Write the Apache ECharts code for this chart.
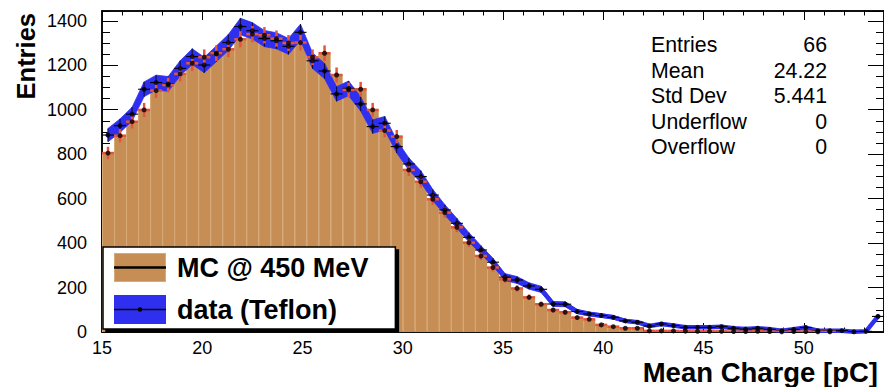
<!DOCTYPE html>
<html><head><meta charset="utf-8">
<script src="https://cdn.jsdelivr.net/npm/echarts@6/dist/echarts.min.js"></script>
<style>html,body{margin:0;padding:0;background:#fff}#c{width:884px;height:387px}</style>
</head><body><div id="c"></div>
<script>
// ---- data ----
const binLow = 15;
const binWidth = 0.6;
const mcValues = [805,883,946,999,1086,1111,1161,1209,1236,1254,1272,1317,1340,1335,1320,1300,1302,1236,1254,1156,1089,1092,999,906,879,729,676,597,537,471,402,342,290,237,196,156,125,99,89,65,57,32,24,17,17,5,5,5,4,3,3,3,2,2,3,2,1,2,2,1,1,0,0,0,0];
const dataValues = [886,928,980,1092,1122,1116,1186,1239,1201,1251,1302,1374,1355,1320,1310,1285,1348,1220,1174,1071,1096,1026,924,939,834,756,699,616,549,489,426,369,314,247,234,207,192,126,125,92,81,74,66,50,44,27,36,29,21,21,21,24,17,13,17,12,6,12,20,6,6,6,1,3,70];
const xTickLabels = [15,20,25,30,35,40,45,50];
const yTickLabels = [0,200,400,600,800,1000,1200,1400];
const statsLabels = ['Entries','Mean','Std Dev','Underflow','Overflow'];
const statsValues = ['66','24.22','5.441','0','0'];
const mcName = 'MC @ 450 MeV';
const dataName = 'data (Teflon)';

// ---- style ----
const FONT = '"Liberation Sans", Arial, Helvetica, sans-serif';
const ORANGE = '#c68e54';
const SEAM = '#d8aa78';
const RED = '#e4553d';
const BLUE = '#2f2ff0';

const center = i => +(binLow + binWidth * (i + 0.5)).toFixed(3);
const lo = i => +(binLow + binWidth * i).toFixed(3);
const hi = i => +(binLow + binWidth * (i + 1)).toFixed(3);

const mcBars = mcValues.map((v, i) => [lo(i), hi(i), v]);
const mcErr = mcValues.map((v, i) => [lo(i), hi(i), v, Math.sqrt(v), center(i)]);
const dataErr = dataValues.map((v, i) => [lo(i), hi(i), v, Math.sqrt(v), center(i)]);
const bandSegs = dataValues.slice(0, -1).map((v, i) => [center(i), v, Math.sqrt(v), center(i + 1), dataValues[i + 1], Math.sqrt(dataValues[i + 1])]);
const dataLine = dataValues.map((v, i) => [center(i), v]);
const mcDots = mcValues.map((v, i) => [center(i), v]);
const dataDots = dataValues.map((v, i) => [center(i), v]);

function svgUri(s) { return 'image://data:image/svg+xml;charset=utf-8,' + encodeURIComponent(s); }
const iconMC = svgUri('<svg xmlns="http://www.w3.org/2000/svg" width="52" height="29"><rect x="0.5" y="0.5" width="51" height="28" fill="' + ORANGE + '" stroke="' + SEAM + '" stroke-width="1"/><line x1="0" y1="14.5" x2="52" y2="14.5" stroke="#000" stroke-width="2.5"/></svg>');
const iconData = svgUri('<svg xmlns="http://www.w3.org/2000/svg" width="52" height="29"><rect width="52" height="29" fill="' + BLUE + '"/><line x1="0" y1="14.5" x2="52" y2="14.5" stroke="#000" stroke-width="1.5"/><circle cx="26" cy="14.5" r="2.3" fill="#000"/></svg>');

const chart = echarts.init(document.getElementById('c'), null, {renderer: 'svg'});

function axisX(pos, interval, len, labels) {
  return {
    type: 'value', min: 15, max: 54, interval: interval, position: pos, offset: 0,
    axisLine: {show: true, onZero: false, lineStyle: {color: '#000', width: 1.5}},
    axisTick: {show: true, inside: true, length: len, lineStyle: {color: '#000', width: 1}},
    axisLabel: labels ? {show: true, margin: 7, fontSize: 18, fontFamily: FONT, color: '#000', showMaxLabel: false,
      formatter: v => xTickLabels.indexOf(v) >= 0 ? String(v) : ''} : {show: false},
    splitLine: {show: false}
  };
}
function axisY(pos, interval, len, labels) {
  return {
    type: 'value', min: 0, max: 1444, interval: interval, position: pos, offset: 0,
    axisLine: {show: true, onZero: false, lineStyle: {color: '#000', width: 1.5}},
    axisTick: {show: true, inside: true, length: len, lineStyle: {color: '#000', width: 1}},
    axisLabel: labels ? {show: true, margin: 15, fontSize: 18, fontFamily: FONT, color: '#000', showMaxLabel: false,
      formatter: v => yTickLabels.indexOf(v) >= 0 ? String(v) : ''} : {show: false},
    splitLine: {show: false}
  };
}

const option = {
  animation: false,
  backgroundColor: '#fff',
  grid: {left: 102, top: 11, width: 784, bottom: 55, containLabel: false},
  xAxis: [axisX('bottom', 5, 9, true), axisX('bottom', 1, 4.5, false), axisX('top', 5, 9, false), axisX('top', 1, 4.5, false)],
  yAxis: [axisY('left', 200, 16, true), axisY('left', 50, 8, false), axisY('right', 200, 16, false), axisY('right', 50, 8, false)],
  legend: {
    orient: 'vertical', left: 103, top: 247, padding: [6, 27, 5, 11], itemGap: 13,
    itemWidth: 52, itemHeight: 29, selectedMode: false,
    backgroundColor: '#fff', borderColor: '#000', borderWidth: 1.5, borderRadius: 0,
    shadowColor: '#000', shadowBlur: 0, shadowOffsetX: 3, shadowOffsetY: 3,
    textStyle: {fontFamily: FONT, fontWeight: 'bold', fontSize: 27, color: '#000', padding: [0, 0, 0, 6]},
    data: [{name: mcName, icon: iconMC}, {name: dataName, icon: iconData}]
  },
  series: [
    {
      name: mcName, type: 'custom', clip: true, z: 1,
      encode: {x: [0, 1], y: 2},
      data: mcBars,
      itemStyle: {color: ORANGE},
      renderItem: (params, api) => {
        const p0 = api.coord([api.value(0), 0]);
        const p1 = api.coord([api.value(1), api.value(2)]);
        return {type: 'group', children: [
          {type: 'rect', shape: {x: p0[0], y: p1[1], width: p1[0] - p0[0], height: p0[1] - p1[1]}, style: {fill: ORANGE}},
          {type: 'line', shape: {x1: p0[0] + 0.5, y1: p0[1], x2: p0[0] + 0.5, y2: p1[1] + 1}, style: {stroke: SEAM, lineWidth: 1}}
        ]};
      }
    },
    {
      name: 'band', type: 'custom', clip: true, z: 2, silent: true,
      encode: {x: [0, 3], y: [1, 4]}, data: bandSegs,
      renderItem: (params, api) => {
        const x0 = api.value(0), v0 = api.value(1), e0 = api.value(2);
        const x1 = api.value(3), v1 = api.value(4), e1 = api.value(5);
        const pts = [api.coord([x0, v0 + e0]), api.coord([x1, v1 + e1]), api.coord([x1, v1 - e1]), api.coord([x0, v0 - e0])];
        return {type: 'polygon', shape: {points: pts}, style: {fill: BLUE, stroke: BLUE, lineWidth: 0.8}};
      }
    },
    {
      name: dataName, type: 'line', data: dataLine, symbol: 'none', z: 3,
      itemStyle: {color: BLUE}, lineStyle: {color: BLUE, width: 4.5, join: 'round', cap: 'round'}
    },
    {
      name: 'dataErr', type: 'custom', clip: true, z: 4,
      encode: {x: [0, 1], y: 2}, data: dataErr,
      renderItem: (params, api) => {
        const a = api.coord([api.value(0), api.value(2)]);
        const b = api.coord([api.value(1), api.value(2)]);
        const t = api.coord([api.value(4), api.value(2) + api.value(3)]);
        const d = api.coord([api.value(4), api.value(2) - api.value(3)]);
        return {type: 'group', children: [
          {type: 'line', shape: {x1: a[0], y1: a[1], x2: b[0], y2: b[1]}, style: {stroke: '#000', lineWidth: 1.1}},
          {type: 'line', shape: {x1: t[0], y1: t[1], x2: d[0], y2: d[1]}, style: {stroke: '#000', lineWidth: 0.8}}
        ]};
      }
    },
    {
      name: 'mcErr', type: 'custom', clip: true, z: 5,
      encode: {x: [0, 1], y: 2}, data: mcErr,
      renderItem: (params, api) => {
        if (api.value(2) <= 0) return null;
        const a = api.coord([api.value(0), api.value(2)]);
        const b = api.coord([api.value(1), api.value(2)]);
        const t = api.coord([api.value(4), api.value(2) + api.value(3)]);
        const d = api.coord([api.value(4), Math.max(0, api.value(2) - api.value(3))]);
        return {type: 'group', children: [
          {type: 'line', shape: {x1: a[0], y1: a[1], x2: b[0], y2: b[1]}, style: {stroke: RED, lineWidth: 2.5}},
          {type: 'line', shape: {x1: t[0], y1: t[1], x2: d[0], y2: d[1]}, style: {stroke: RED, lineWidth: 2.5}}
        ]};
      }
    },
    {
      name: 'mcDots', type: 'scatter', data: mcDots.filter(p => p[1] > 0), symbol: 'circle', symbolSize: 5, z: 6,
      itemStyle: {color: '#000'}, silent: true
    },
    {
      name: 'dataDots', type: 'scatter', data: dataDots, symbol: 'circle', symbolSize: 5, z: 6,
      itemStyle: {color: '#000'}, silent: true
    }
  ],
  graphic: [
    {type: 'text', x: 26, y: 13, rotation: Math.PI / 2, z: 10,
     style: {text: 'Entries', font: 'bold 25.5px ' + FONT, fill: '#000', align: 'right', verticalAlign: 'middle'}},
    {type: 'text', x: 878, y: 372, z: 10,
     style: {text: 'Mean Charge [pC]', font: 'bold 27.5px ' + FONT, fill: '#000', align: 'right', verticalAlign: 'middle'}}
  ].concat(statsLabels.map((s, i) => ({type: 'text', x: 651, y: 45 + i * 25.6, z: 10,
     style: {text: s, font: '21.3px ' + FONT, fill: '#000', align: 'left', verticalAlign: 'middle'}})))
   .concat(statsValues.map((s, i) => ({type: 'text', x: 827, y: 45 + i * 25.6, z: 10,
     style: {text: s, font: '21.3px ' + FONT, fill: '#000', align: 'right', verticalAlign: 'middle'}})))
};
chart.setOption(option);
</script></body></html>
